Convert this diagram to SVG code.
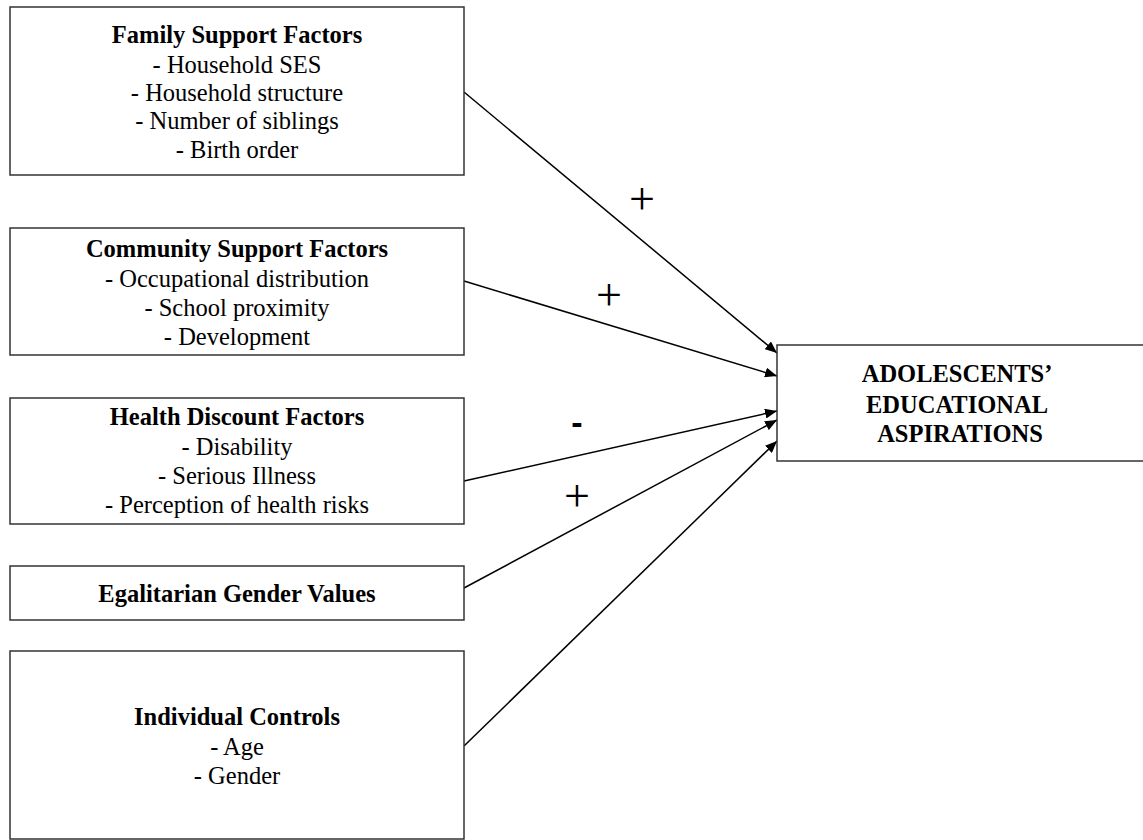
<svg xmlns="http://www.w3.org/2000/svg" width="1143" height="840" viewBox="0 0 1143 840">
<style>
.box{fill:#fff;stroke:#333;stroke-width:1.5}
.t{font-family:"Liberation Serif","Times New Roman",serif;font-size:24.5px;fill:#000;text-anchor:middle}
.b{font-weight:bold}
.c{stroke:#000;stroke-width:1.5;fill:none;marker-end:url(#ah)}
.sign{font-family:"Liberation Serif","Times New Roman",serif;font-size:46px;fill:#000;text-anchor:middle}
.neg{font-family:"Liberation Sans",Arial,sans-serif;font-weight:bold;font-size:34px;fill:#000;text-anchor:middle}
</style>
<defs>
<marker id="ah" viewBox="0 0 12 10" refX="12" refY="5" markerWidth="12" markerHeight="10" markerUnits="userSpaceOnUse" orient="auto">
<path d="M0,0 L12,5 L0,10 Z" fill="#000"/>
</marker>
</defs>
<rect width="1143" height="840" fill="#fff"/>
<g id="connectors">
<line class="c" x1="464" y1="92" x2="777" y2="353"/>
<line class="c" x1="464" y1="281" x2="777" y2="376"/>
<line class="c" x1="464" y1="481" x2="777" y2="411"/>
<line class="c" x1="464" y1="588" x2="777" y2="420"/>
<line class="c" x1="464" y1="746" x2="777" y2="441"/>
<text class="sign" x="642" y="214">+</text>
<text class="sign" x="609" y="310">+</text>
<text class="neg" x="577" y="434">-</text>
<text class="sign" x="577" y="511">+</text>
</g>
<g id="family">
<rect class="box" x="10" y="7" width="454" height="168"/>
<text class="t b" x="237" y="43">Family Support Factors</text>
<text class="t" x="237" y="73">- Household SES</text>
<text class="t" x="237" y="101">- Household structure</text>
<text class="t" x="237" y="129">- Number of siblings</text>
<text class="t" x="237" y="158">- Birth order</text>
</g>
<g id="community">
<rect class="box" x="10" y="228" width="454" height="127"/>
<text class="t b" x="237" y="257">Community Support Factors</text>
<text class="t" x="237" y="287">- Occupational distribution</text>
<text class="t" x="237" y="316">- School proximity</text>
<text class="t" x="237" y="345">- Development</text>
</g>
<g id="health">
<rect class="box" x="10" y="398" width="454" height="126"/>
<text class="t b" x="237" y="425">Health Discount Factors</text>
<text class="t" x="237" y="455">- Disability</text>
<text class="t" x="237" y="484">- Serious Illness</text>
<text class="t" x="237" y="513">- Perception of health risks</text>
</g>
<g id="egalitarian">
<rect class="box" x="10" y="566" width="454" height="54"/>
<text class="t b" x="237" y="602">Egalitarian Gender Values</text>
</g>
<g id="individual">
<rect class="box" x="10" y="651" width="454" height="188"/>
<text class="t b" x="237" y="725">Individual Controls</text>
<text class="t" x="237" y="755">- Age</text>
<text class="t" x="237" y="784">- Gender</text>
</g>
<g id="aspirations">
<rect class="box" x="777" y="345" width="380" height="116"/>
<text class="t b" x="957" y="382">ADOLESCENTS’</text>
<text class="t b" x="957" y="413">EDUCATIONAL</text>
<text class="t b" x="960" y="442">ASPIRATIONS</text>
</g>
</svg>
